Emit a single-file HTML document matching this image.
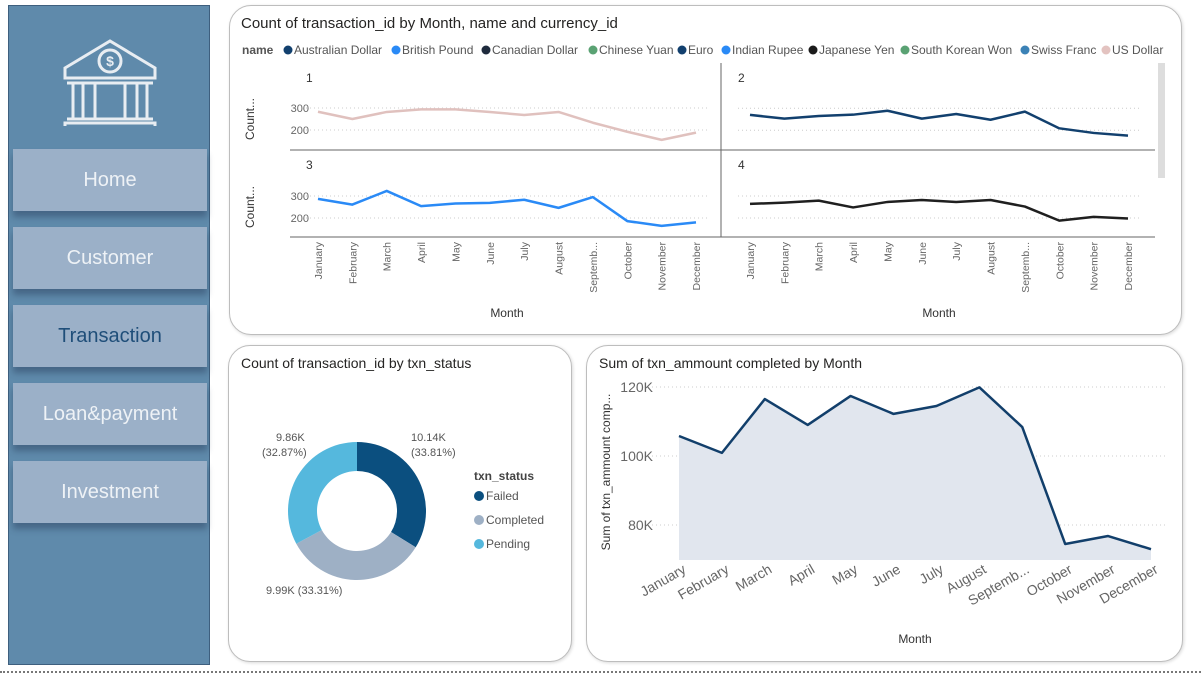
<!DOCTYPE html>
<html><head><meta charset="utf-8"><style>
body{margin:0;width:1201px;height:675px;background:#fff;font-family:"Liberation Sans",sans-serif;overflow:hidden;position:relative}
.side{position:absolute;left:8px;top:5px;width:202px;height:660px;background:#5f8aab;border:1px solid #3e5f7e;box-sizing:border-box}
.btn{position:absolute;left:4px;width:194px;height:62px;background:#9bb0c8;color:#eef2f6;font-size:20px;text-align:center;line-height:62px;box-shadow:0 6px 6px rgba(40,60,90,.45)}
.card{position:absolute;border:1px solid #bdbdbd;border-radius:22px;background:#fff;box-shadow:1px 1px 3px rgba(0,0,0,.15)}
svg{position:absolute;left:0;top:0}
</style></head><body>
<div class="side">
<svg width="200" height="120" style="left:0;top:0">
<g fill="none" stroke="#e8edf2" stroke-width="3">
<path d="M56 62 L101 35 L146 62 L146 72 L56 72 Z"/>
<circle cx="101" cy="55" r="11"/>
<rect x="56" y="117" width="90" height="6"/>
<line x1="64" y1="77" x2="64" y2="112"/><line x1="74" y1="77" x2="74" y2="112"/><line x1="86" y1="77" x2="86" y2="112"/>
<line x1="116" y1="77" x2="116" y2="112"/><line x1="128" y1="77" x2="128" y2="112"/><line x1="138" y1="77" x2="138" y2="112"/>
<line x1="58" y1="113" x2="144" y2="113"/><line x1="58" y1="77" x2="144" y2="77"/>
</g><text x="101" y="60" text-anchor="middle" font-size="14" fill="#e8edf2" font-weight="bold">$</text></svg>
<div class="btn" style="top:143px">Home</div>
<div class="btn" style="top:221px">Customer</div>
<div class="btn" style="top:299px;color:#1f4e79">Transaction</div>
<div class="btn" style="top:377px">Loan&amp;payment</div>
<div class="btn" style="top:455px">Investment</div>
</div>
<div class="card" style="left:229px;top:5px;width:951px;height:328px"></div>
<div class="card" style="left:228px;top:345px;width:342px;height:315px"></div>
<div class="card" style="left:586px;top:345px;width:595px;height:315px"></div>
<div style="position:absolute;left:0;top:671px;width:1201px;border-top:2px dotted #777"></div>
<svg id="main" width="1201" height="675"></svg>
<script>
const months=["January","February","March","April","May","June","July","August","Septemb...","October","November","December"];
const usd=[283,250,282,294,294,282,268,282,233,192,155,188];
const euro=[270,253,265,271,289,253,274,248,285,209,188,176];
const gbp=[287,261,323,254,266,269,283,246,295,186,164,180];
const jpy=[264,270,279,248,273,282,273,282,252,188,205,198];
const statusLabels=["Failed","Completed","Pending"];
const statusValues=[10140,9990,9860];
const statusText=["10.14K","9.99K","9.86K"];
const statusPct=["33.81%","33.31%","32.87%"];
const amountMonths=["January","February","March","April","May","June","July","August","Septemb...","October","November","December"];
const amount=[105.8,100.9,116.5,109,117.4,112.2,114.5,119.9,108.4,74.5,76.8,73];
const amountTicks=[80,100,120];
const NS="http://www.w3.org/2000/svg";
const svg=document.getElementById('main');
function el(t,a,txt){const e=document.createElementNS(NS,t);for(const k in a)e.setAttribute(k,a[k]);if(txt!==undefined)e.textContent=txt;svg.appendChild(e);return e;}
let e;
e=el('text',{x:241,y:28,'font-size':15,fill:'#252423'},'Count of transaction_id by Month, name and currency_id');


const legNames=["Australian Dollar","British Pound","Canadian Dollar","Chinese Yuan","Euro","Indian Rupee","Japanese Yen","South Korean Won","Swiss Franc","US Dollar"];
const legCols=["#12406e","#2a8af6","#1f2b3d","#5aa273","#12406e","#2a8af6","#1b1b1b","#5aa273","#3b82b6","#e3c3c0"];
e=el('text',{x:242,y:54,'font-size':12,'font-weight':'bold',fill:'#555'},'name');


const legX=[288,396,486,593,682,726,813,905,1025,1106];
legNames.forEach((n,i)=>{
 const c=el('circle',{cx:legX[i],cy:50,r:4.5,fill:legCols[i]});
 
 
 const t=el('text',{x:legX[i]+6,y:54,'font-size':12,fill:'#555'},n);
 
 
});
function panel(data,col,x0,x1,y300,label,showTicks,lx,ly){
 const sx=i=>x0+i*(x1-x0)/11, sy=v=>y300+(300-v)*0.22;
 [300,200].forEach(v=>{const g=el('line',{x1:x0-12,x2:x1+12,y1:sy(v),y2:sy(v),stroke:'#ccc','stroke-dasharray':'1 3'});
  
  if(showTicks){const t=el('text',{x:x0-9,y:sy(v)+4,'font-size':11,fill:'#666','text-anchor':'end'},v);}});
 const p=el('polyline',{points:data.map((v,i)=>sx(i)+','+sy(v)).join(' '),fill:'none',stroke:col,'stroke-width':2.5,'stroke-linejoin':'round'});
 
 
 const t=el('text',{x:lx,y:ly,'font-size':12,fill:'#333'},label);
 
 if(showTicks){const a=el('text',{transform:`translate(254,${y300+11}) rotate(-90)`,'font-size':12,fill:'#333','text-anchor':'middle'},'Count...');}
}
panel(usd,'#e0c1be',318,696,108,'1',true,306,82);
panel(euro,'#12406e',750,1128,108.3,'2',false,738,82);
panel(gbp,'#2a8af6',318,696,196,'3',true,306,169);
panel(jpy,'#1f1f1f',750,1128,196,'4',false,738,169);
[[290,150,1155,150],[290,237,1155,237],[721,63,721,237]].forEach(l=>{const g=el('line',{x1:l[0],y1:l[1],x2:l[2],y2:l[3],stroke:'#666'});});
e=el('rect',{x:1158,y:63,width:7,height:115,fill:'#ddd'});


[[318,696,507],[750,1128,939]].forEach(r=>{
 months.forEach((m,i)=>{const x=r[0]+i*(r[1]-r[0])/11;const t=el('text',{transform:`translate(${x+4},242) rotate(-90)`,'font-size':10.5,fill:'#666','text-anchor':'end'},m);});
 const t=el('text',{x:r[2],y:317,'font-size':12,fill:'#333','text-anchor':'middle'},'Month');
});
e=el('text',{x:241,y:368,'font-size':14,fill:'#252423'},'Count of transaction_id by txn_status');


const dc=['#0b4f7f','#9eb0c5','#55b8dd'];
const cx=357,cy=511,R=69,r=40;
const tot=statusValues.reduce((a,b)=>a+b,0);
let ang=-Math.PI/2;
statusValues.forEach((v,i)=>{
 const a2=ang+v/tot*2*Math.PI;const lg=a2-ang>Math.PI?1:0;
 const P=(rad,a)=>[cx+rad*Math.cos(a),cy+rad*Math.sin(a)];
 const [x1,y1]=P(R,ang),[x2,y2]=P(R,a2),[x3,y3]=P(r,a2),[x4,y4]=P(r,ang);
 const s=el('path',{d:`M${x1},${y1}A${R},${R} 0 ${lg} 1 ${x2},${y2}L${x3},${y3}A${r},${r} 0 ${lg} 0 ${x4},${y4}Z`,fill:dc[i]});
 
 
 ang=a2;
});
const dl=[[411,441],[265,594],[276,441]];
statusValues.forEach((v,i)=>{
 const pct=statusPct[i];
 let t;
 if(i==1){t=el('text',{x:266,y:594,'font-size':11,fill:'#555'},statusText[i]+' ('+pct+')');}
 else{t=el('text',{x:dl[i][0],y:dl[i][1],'font-size':11,fill:'#555'},statusText[i]);
  const t2=el('text',{x:dl[i][0]-(i==2?14:0),y:dl[i][1]+15,'font-size':11,fill:'#555'},'('+pct+')');
  }
 
});
e=el('text',{x:474,y:480,'font-size':12,'font-weight':'bold',fill:'#444'},'txn_status');


statusLabels.forEach((n,i)=>{
 const c=el('circle',{cx:479,cy:496+i*24,r:5,fill:dc[i]});
 const t=el('text',{x:486,y:500+i*24,'font-size':12,fill:'#555'},n);
});
e=el('text',{x:599,y:368,'font-size':14,fill:'#252423'},'Sum of txn_ammount completed by Month');


const ax=i=>679+i*(1151-679)/11, ay=v=>456-(v-100)*3.45;
amountTicks.forEach(v=>{
 const g=el('line',{x1:652,x2:1166,y1:ay(v),y2:ay(v),stroke:'#ccc','stroke-dasharray':'1 3'});
 const t=el('text',{x:653,y:ay(v)+5,'font-size':14,fill:'#666','text-anchor':'end'},v+'K');
});
const pts=amount.map((v,i)=>ax(i)+','+ay(v));
e=el('polygon',{points:ax(0)+',560 '+pts.join(' ')+' '+ax(11)+',560',fill:'#e1e6ee'});


e=el('polyline',{points:pts.join(' '),fill:'none',stroke:'#123f6b','stroke-width':2.5,'stroke-linejoin':'round'});


amountMonths.forEach((m,i)=>{const t=el('text',{transform:`translate(${ax(i)+8},572) rotate(-30)`,'font-size':14,fill:'#666','text-anchor':'end'},m);});
e=el('text',{x:915,y:643,'font-size':12,fill:'#333','text-anchor':'middle'},'Month');


e=el('text',{transform:'translate(610,472) rotate(-90)','font-size':12,fill:'#333','text-anchor':'middle'},'Sum of txn_ammount comp...');


</script>
</body></html>
